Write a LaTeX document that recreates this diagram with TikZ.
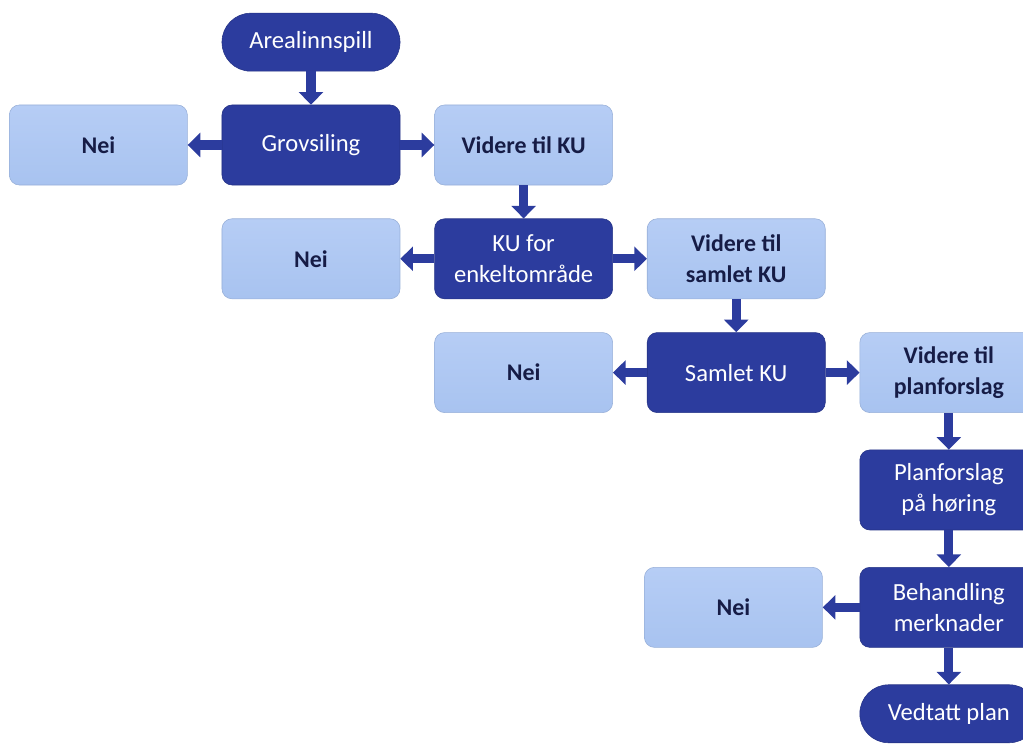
\documentclass[tikz,border=0pt]{standalone}
\usepackage{fontspec}
\setmainfont{Carlito}
\usepackage{xcolor}
\usepackage{tikz}
\usetikzlibrary{positioning,arrows.meta}

\definecolor{darkblue}{RGB}{44,60,158}
\definecolor{lightblue}{RGB}{168,195,240}
\definecolor{lighttop}{RGB}{182,205,245}
\definecolor{navytext}{RGB}{22,28,70}

\begin{document}
\begin{tikzpicture}[
    x=0.025cm,y=-0.025cm,
    font=\fontsize{17.5}{22}\selectfont,
    box/.style={rounded corners=0.25cm,align=center,minimum width=4.45cm,minimum height=2cm,inner sep=2pt},
    stepbox/.style={box,fill=darkblue,draw=darkblue!85!black,text=white},
    endbox/.style={stepbox,rounded corners=0.72cm,minimum height=1.45cm},
    choice/.style={box,top color=lighttop,bottom color=lightblue,draw=lightblue!90!black,text=navytext,font=\fontsize{17}{22}\selectfont\bfseries},
    arr/.style={draw=darkblue,line width=6.5pt,-{Triangle[width=17pt,length=9pt]}},
    node distance=0.83cm and 0.85cm
  ]
    \useasboundingbox (-311,-145) rectangle (712,602);
    \node[stepbox] (grov) at (0,0) {Grovsiling};
    \node[endbox,above=of grov] (innspill) {Arealinnspill};
    \node[choice,left=of grov] (nei1) {Nei};
    \node[choice,right=of grov] (videreku) {Videre til KU};
    \node[stepbox,below=of videreku] (kuenkelt) {KU for\\enkeltområde};
    \node[choice,left=of kuenkelt] (nei2) {Nei};
    \node[choice,right=of kuenkelt] (videresamlet) {Videre til\\samlet KU};
    \node[stepbox,below=of videresamlet] (samlet) {Samlet KU};
    \node[choice,left=of samlet] (nei3) {Nei};
    \node[choice,right=of samlet] (videreplan) {Videre til\\planforslag};
    \node[stepbox,below=0.92cm of videreplan] (horing) {Planforslag\\på høring};
    \node[stepbox,below=0.92cm of horing] (merknad) {Behandling\\merknader};
    \node[choice,left=0.92cm of merknad] (nei4) {Nei};
    \node[endbox,below=0.92cm of merknad] (vedtatt) {Vedtatt plan};
    \draw[arr] (innspill) -- (grov);
    \draw[arr] (grov) -- (nei1);
    \draw[arr] (grov) -- (videreku);
    \draw[arr] (videreku) -- (kuenkelt);
    \draw[arr] (kuenkelt) -- (nei2);
    \draw[arr] (kuenkelt) -- (videresamlet);
    \draw[arr] (videresamlet) -- (samlet);
    \draw[arr] (samlet) -- (nei3);
    \draw[arr] (samlet) -- (videreplan);
    \draw[arr] (videreplan) -- (horing);
    \draw[arr] (horing) -- (merknad);
    \draw[arr] (merknad) -- (nei4);
    \draw[arr] (merknad) -- (vedtatt);
  \end{tikzpicture}
\end{document}
